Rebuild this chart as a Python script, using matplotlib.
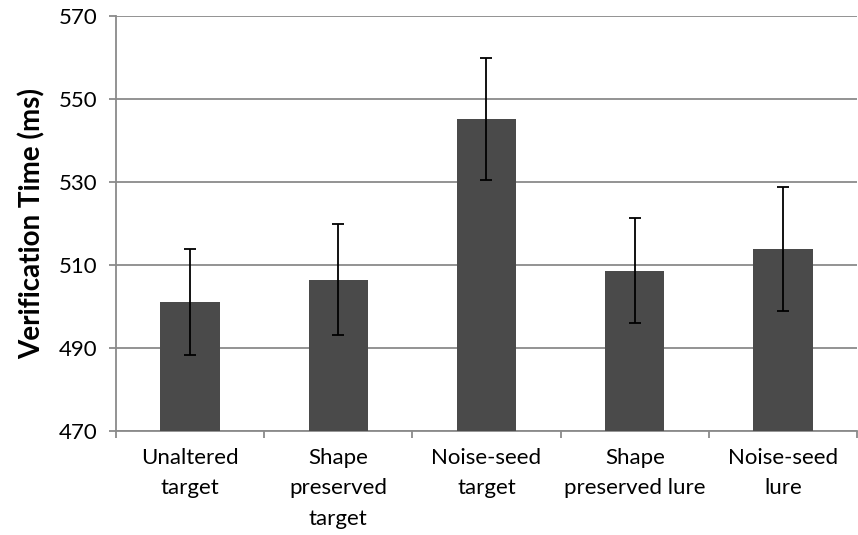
import matplotlib.pyplot as plt
import numpy as np

# valeurs
categories = ["Unaltered\ntarget", "Shape\npreserved\ntarget", "Noise-seed\ntarget",
              "Shape\npreserved lure", "Noise-seed\nlure"]
means = [501.1, 506.5, 545.2, 508.7, 513.9]
errors = [12.7, 13.4, 14.7, 12.6, 15.0]
yticks = [470, 490, 510, 530, 550, 570]

plt.rcParams['font.family'] = ['Lato', 'DejaVu Sans']

fig = plt.figure(figsize=(8.58, 5.35), dpi=100)
ax = fig.add_axes([0.135, 0.194, 0.864, 0.776])

x = np.arange(len(categories))
ax.bar(x, means, width=0.4, color="#4a4a4a", zorder=3)
ax.errorbar(x, means, yerr=errors, fmt="none", ecolor="black", elinewidth=1.3,
            capsize=4, capthick=1.3, zorder=4)

ax.set_xlim(-0.5, len(categories) - 0.5)
ax.set_ylim(470, 570)
ax.set_yticks(yticks)
ax.yaxis.grid(True, color="#8a8a8a", linewidth=1.3, zorder=0)

ax.set_xticks(x)
ax.set_xticklabels(categories, fontsize=16, linespacing=1.65)
ax.set_xticks(np.arange(len(categories) + 1) - 0.5, minor=True)
ax.tick_params(axis="x", which="major", length=0, pad=12)
ax.tick_params(axis="x", which="minor", length=5, color="#8a8a8a", width=1.3)
ax.tick_params(axis="y", length=5, color="#8a8a8a", width=1.3, labelsize=16, pad=8)

for s in ["top", "right"]:
    ax.spines[s].set_visible(False)
for s in ["left", "bottom"]:
    ax.spines[s].set_color("#8a8a8a")
    ax.spines[s].set_linewidth(1.3)

ax.set_ylabel("Verification Time (ms)", fontsize=20, fontweight="bold", labelpad=10)

fig.savefig("out.png", dpi=100)
